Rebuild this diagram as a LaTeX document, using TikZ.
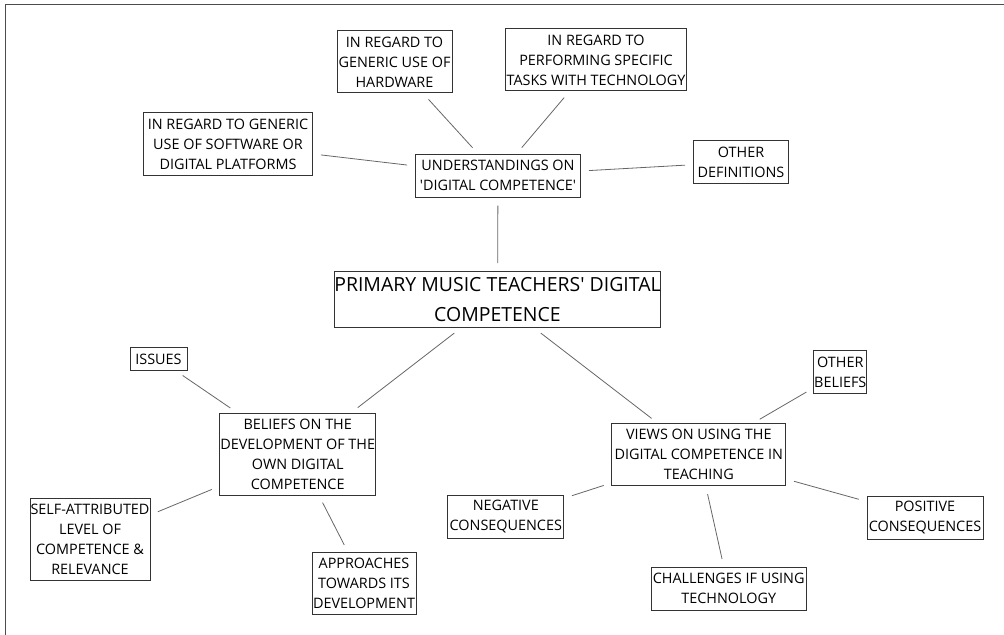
\documentclass[tikz,border=0pt]{standalone}
\usepackage{fontspec}
\setmainfont[Ligatures=TeXOff]{Open Sans}
\begin{document}
\begin{tikzpicture}[x=0.75pt,y=-0.75pt,
  box/.style={draw=black!80, line width=0.75pt, inner sep=0pt, align=center,
    font=\fontsize{10.8}{15}\selectfont, text=black},
  sz/.style 2 args={minimum width=#1*0.75pt, minimum height=#2*0.75pt},
  link/.style={draw=black!60, line width=0.6pt, shorten <=6pt, shorten >=6pt},
  frame/.style={draw=black!70, line width=1.2pt}]
\useasboundingbox (0,0) rectangle (1004,635);
\coordinate (fa) at (5.5,640);
\coordinate (fb) at (5.5,4.5);
\coordinate (fc) at (1010,4.5);
\draw[frame] (fa) -- (fb) -- (fc);

\node[box, sz={115}{62}] (hw) at (394.5,62) {IN REGARD TO\\GENERIC USE OF\\HARDWARE};
\node[box, sz={181}{62}] (perf) at (596,60) {IN REGARD TO\\PERFORMING SPECIFIC\\TASKS WITH TECHNOLOGY};
\node[box, sz={169}{62}] (soft) at (228,144) {IN REGARD TO GENERIC\\USE OF SOFTWARE OR\\DIGITAL PLATFORMS};
\node[box, sz={165}{43}] (und) at (498,175.7) {UNDERSTANDINGS ON\\'DIGITAL COMPETENCE'};
\node[box, sz={95}{43}] (odef) at (741,162) {OTHER\\DEFINITIONS};
\node[box, sz={326}{56}, font=\fontsize{14.6}{22.5}\selectfont] (main) at (497.5,299.7) {PRIMARY MUSIC TEACHERS' DIGITAL\\COMPETENCE};
\node[box, sz={57}{23}] (iss) at (158.5,359) {ISSUES};
\node[box, sz={156}{82}] (bel) at (297.7,454) {BELIEFS ON THE\\DEVELOPMENT OF THE\\OWN DIGITAL\\COMPETENCE};
\node[box, sz={120}{82}] (self) at (90,539.7) {SELF-ATTRIBUTED\\LEVEL OF\\COMPETENCE \&\\RELEVANCE};
\node[box, sz={104}{62}] (appr) at (364,583.5) {APPROACHES\\TOWARDS ITS\\DEVELOPMENT};
\node[box, sz={53}{43}] (obel) at (840.3,372.3) {OTHER\\BELIEFS};
\node[box, sz={174}{62}] (views) at (698.8,454.8) {VIEWS ON USING THE\\DIGITAL COMPETENCE IN\\TEACHING};
\node[box, sz={116}{43}] (neg) at (505.8,517) {NEGATIVE\\CONSEQUENCES};
\node[box, sz={116}{43}] (pos) at (925,517.7) {POSITIVE\\CONSEQUENCES};
\node[box, sz={155}{43}] (chal) at (728.7,588.8) {CHALLENGES IF USING\\TECHNOLOGY};

\draw[link] (hw) -- (und);
\draw[link] (perf) -- (und);
\draw[link] (soft) -- (und);
\draw[link] (und) -- (odef);
\draw[link] (und) -- (main);
\draw[link] (main) -- (bel);
\draw[link] (main) -- (views);
\draw[link] (iss) -- (bel);
\draw[link] (bel) -- (self);
\draw[link] (bel) -- (appr);
\draw[link] (views) -- (obel);
\draw[link] (views) -- (neg);
\draw[link] (views) -- (pos);
\draw[link] (views) -- (chal);
\end{tikzpicture}
\end{document}
